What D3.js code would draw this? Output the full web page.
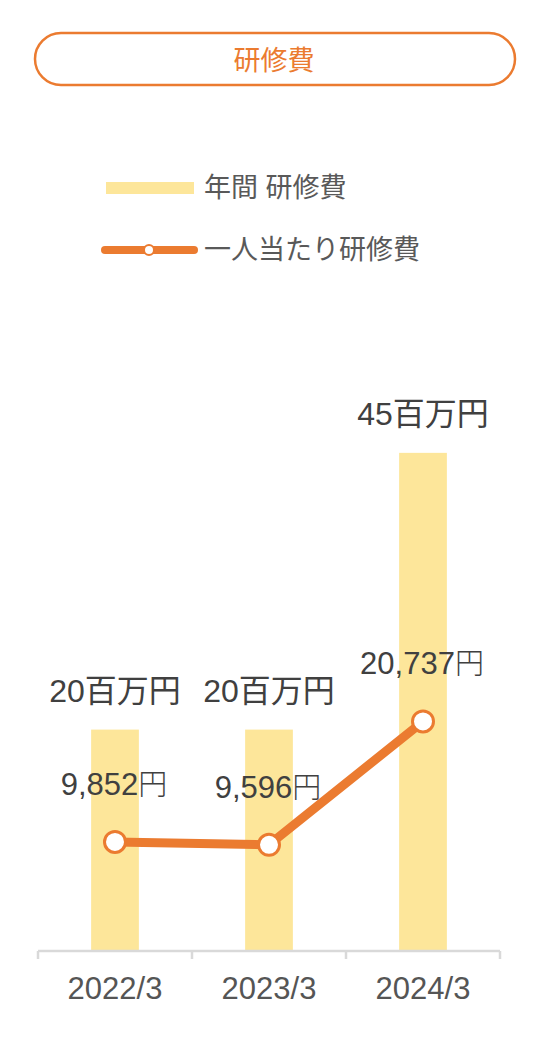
<!DOCTYPE html>
<html>
<head>
<meta charset="utf-8">
<script src="https://cdn.jsdelivr.net/npm/d3@7"></script>
<style>
  body { margin: 0; background: #fff; }
  svg text { font-family: "Liberation Sans", "Noto Sans CJK JP", sans-serif; }
</style>
</head>
<body>
<div class="d3_content"></div>
<script>
// chart data
var years = ["2022/3", "2023/3", "2024/3"];
var annual_cost = [20, 20, 45];            // 百万円
var per_person = [9852, 9596, 20737];      // 円
var annual_labels = ["20百万円", "20百万円", "45百万円"];
var person_labels = ["9,852", "9,596", "20,737"];
var yen = "円";
var legend_names = ["年間 研修費", "一人当たり研修費"];
var title = "研修費";

var bar_color = "#FDE69A";
var line_color = "#EB7B30";

frame = { width: 549, height: 1044, left: 38, right: 500, base: 951 }

var svg = d3.select(".d3_content").append("svg")
  .attr("width", frame.width)
  .attr("height", frame.height);

var x = d3.scaleBand().domain(years).range([frame.left, frame.right]).padding(0);
var y = d3.scaleLinear().domain([0, 50]).range([frame.base, frame.base - 50 * 11.07]);
var y_line = d3.scaleLinear().domain([0, 50000]).range(y.range());
var bar_w = x.bandwidth() * 0.31;
var cx = (d) => x(d) + x.bandwidth() / 2;

// title pill
svg.append("rect")
  .attr("x", 35).attr("y", 33)
  .attr("width", 480).attr("height", 52)
  .attr("rx", 26)
  .style("fill", "white")
  .style("stroke", line_color)
  .style("stroke-width", 2.5);
svg.append("text").text(title)
  .attr("x", 274).attr("y", 61)
  .attr("dy", "0.35em")
  .attr("text-anchor", "middle")
  .style("font-size", "27px")
  .style("fill", line_color);

// legend
svg.append("rect")
  .attr("x", 106).attr("y", 182)
  .attr("width", 88).attr("height", 12)
  .style("fill", bar_color);
svg.append("line")
  .attr("x1", 105).attr("x2", 194)
  .attr("y1", 250).attr("y2", 250)
  .style("stroke", line_color)
  .style("stroke-width", 8)
  .style("stroke-linecap", "round");
svg.append("circle")
  .attr("cx", 149).attr("cy", 250).attr("r", 5)
  .style("fill", "white")
  .style("stroke", line_color)
  .style("stroke-width", 2);
svg.selectAll(".legend_text")
  .data(legend_names)
  .join("text")
  .attr("class", "legend_text")
  .text(d => d)
  .attr("x", 204)
  .attr("y", (d, i) => 188 + i * 62)
  .attr("dy", "0.35em")
  .style("font-size", "27px")
  .style("fill", "#595959");

// bars
svg.append("g").selectAll("rect")
  .data(years)
  .join("rect")
  .attr("x", d => cx(d) - bar_w / 2)
  .attr("y", (d, i) => y(annual_cost[i]))
  .attr("width", bar_w)
  .attr("height", (d, i) => y(0) - y(annual_cost[i]))
  .style("fill", bar_color);

// bar labels
svg.append("g").selectAll("text")
  .data(years)
  .join("text")
  .text((d, i) => annual_labels[i])
  .attr("x", d => cx(d))
  .attr("y", (d, i) => y(annual_cost[i]) - 28)
  .attr("text-anchor", "middle")
  .style("font-size", "32px")
  .style("fill", "#404040");

// axis
svg.append("line")
  .attr("x1", frame.left).attr("x2", frame.right)
  .attr("y1", frame.base).attr("y2", frame.base)
  .style("stroke", "#d9d9d9")
  .style("stroke-width", 2.5);
svg.append("g").selectAll("line")
  .data(years.map(d => x(d)).concat([frame.right]))
  .join("line")
  .attr("x1", d => d).attr("x2", d => d)
  .attr("y1", frame.base).attr("y2", frame.base + 8)
  .style("stroke", "#d9d9d9")
  .style("stroke-width", 2.5);
svg.append("g").selectAll("text")
  .data(years)
  .join("text")
  .text(d => d)
  .attr("x", d => cx(d))
  .attr("y", 999)
  .attr("text-anchor", "middle")
  .style("font-size", "31px")
  .style("fill", "#555");

// per person line
var line = d3.line()
  .x(d => cx(d))
  .y((d, i) => y_line(per_person[i]));
svg.append("path")
  .datum(years)
  .attr("d", line)
  .style("fill", "none")
  .style("stroke", line_color)
  .style("stroke-width", 9)
  .style("stroke-linejoin", "round");
svg.append("g").selectAll("circle")
  .data(years)
  .join("circle")
  .attr("cx", d => cx(d))
  .attr("cy", (d, i) => y_line(per_person[i]))
  .attr("r", 10.5)
  .style("fill", "white")
  .style("stroke", line_color)
  .style("stroke-width", 3);
var person_text = svg.append("g").selectAll("text")
  .data(years)
  .join("text")
  .attr("x", d => cx(d) - 1)
  .attr("y", (d, i) => y_line(per_person[i]) - 47)
  .attr("text-anchor", "middle")
  .style("font-size", "31px")
  .style("fill", "#404040");
person_text.append("tspan").text((d, i) => person_labels[i]);
person_text.append("tspan").text(yen)
  .style("font-weight", 300)
  .style("font-size", "29px");
</script>
</body>
</html>
